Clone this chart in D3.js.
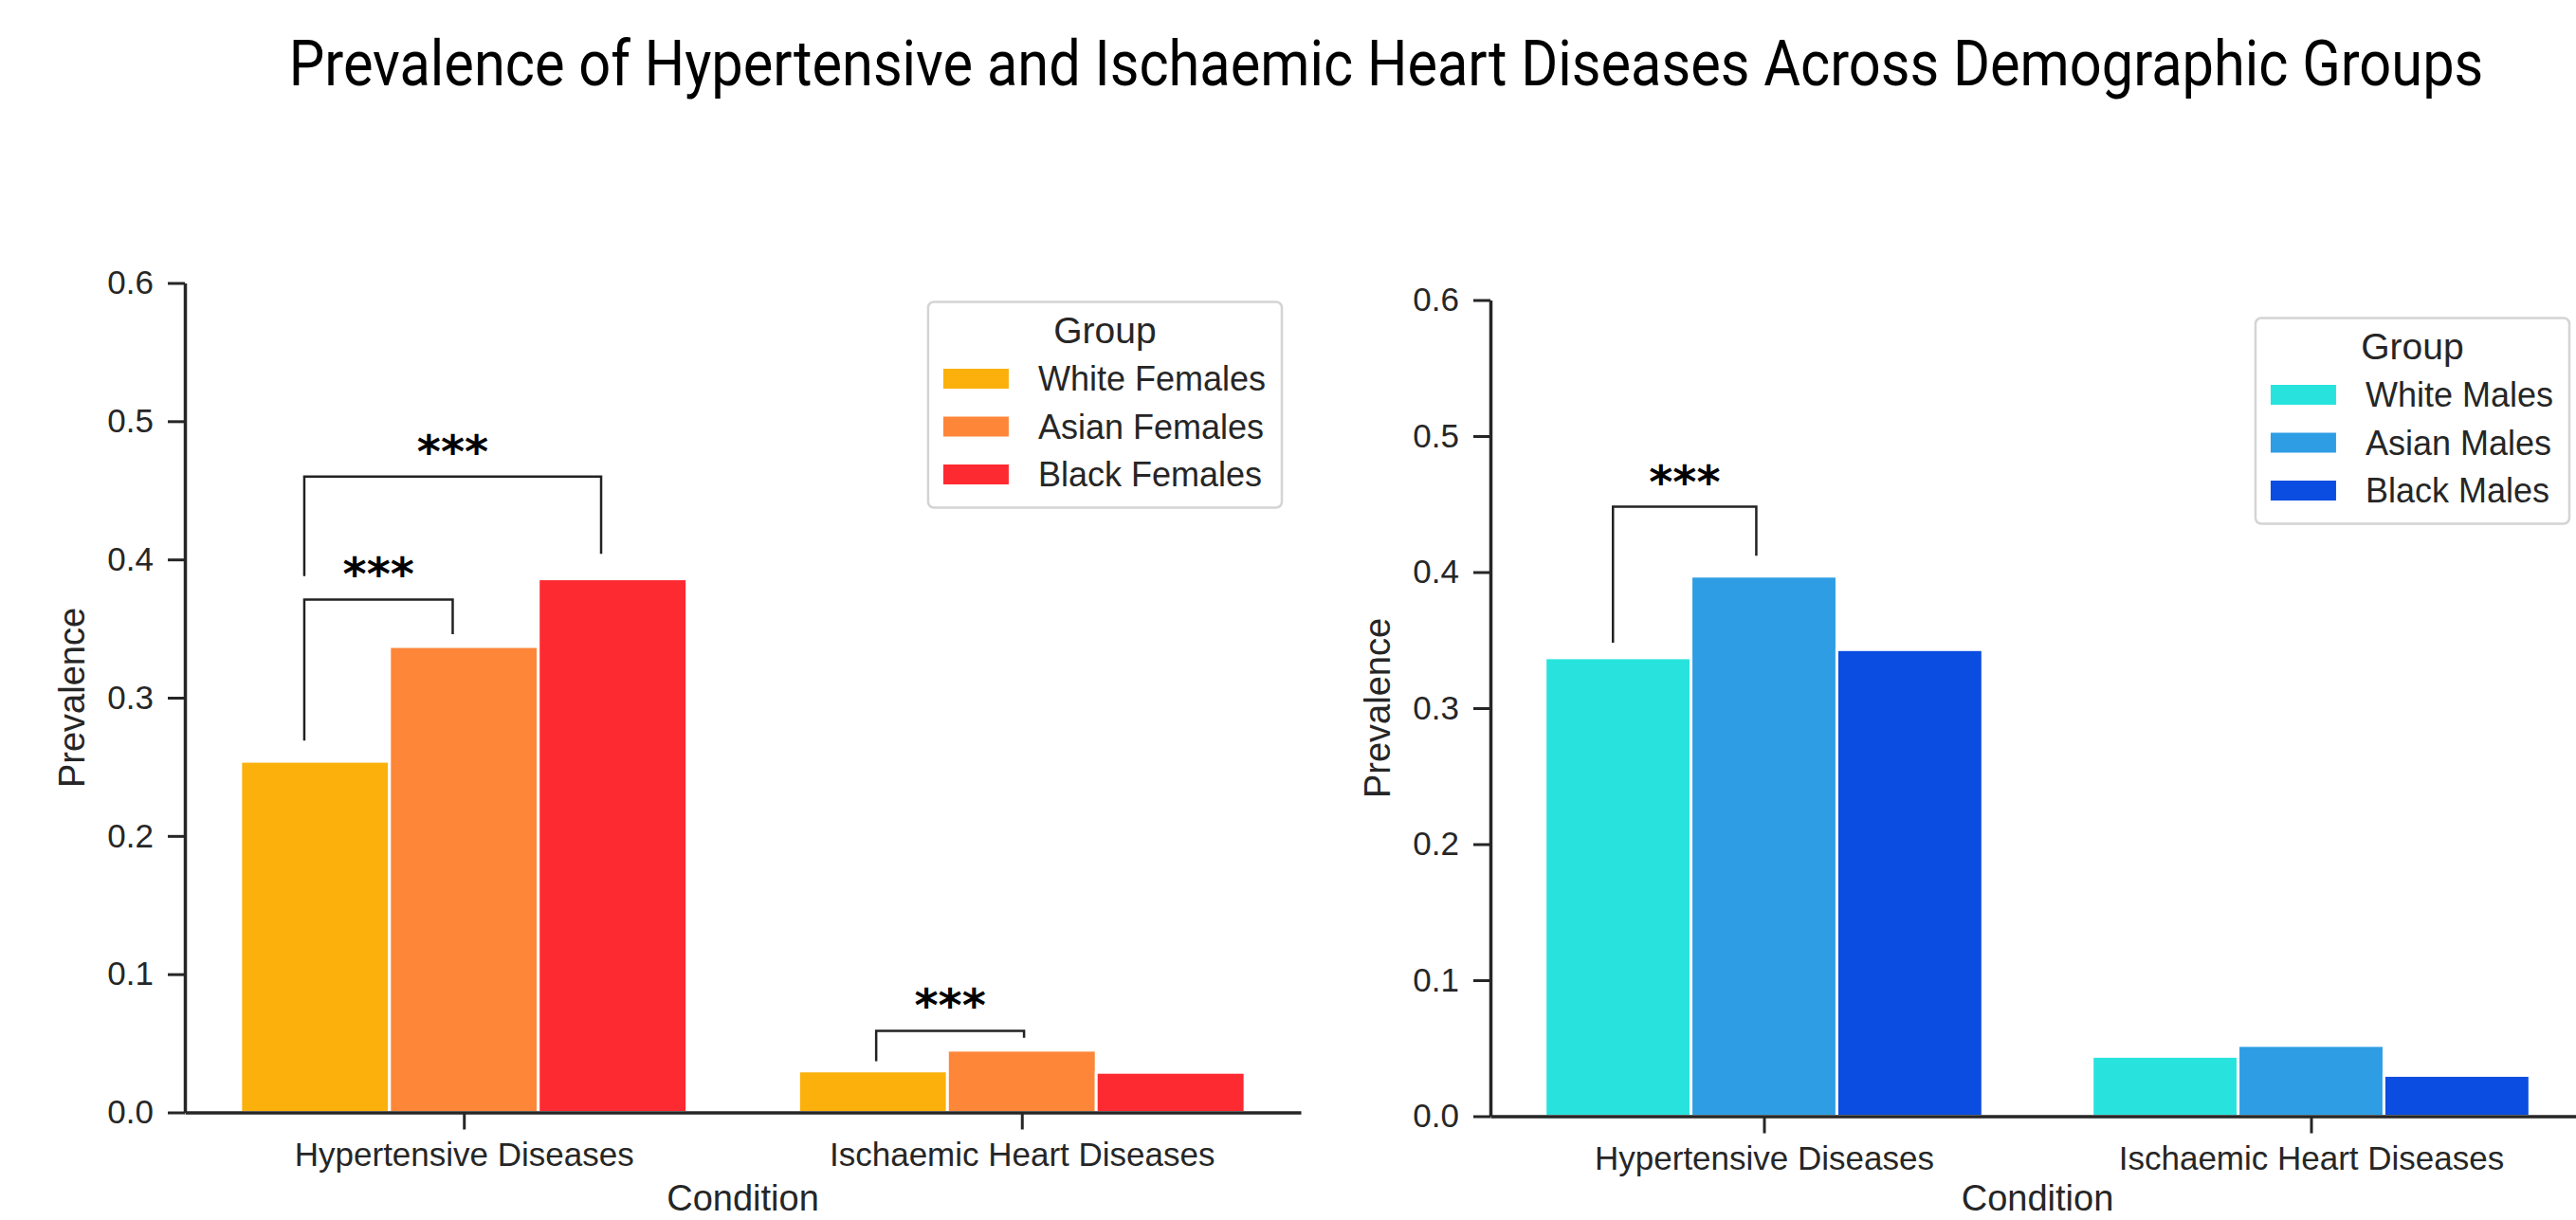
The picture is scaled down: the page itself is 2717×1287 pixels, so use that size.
<!DOCTYPE html>
<html>
<head>
<meta charset="utf-8">
<script src="https://cdn.jsdelivr.net/npm/d3@7"></script>
<style>
  html, body { margin: 0; padding: 0; background: #ffffff; }
  svg { display: block; }
</style>
</head>
<body>
<svg id="chart" width="2717" height="1287"></svg>
<script>
// ---- data -------------------------------------------------------------
const conditions = ["Hypertensive Diseases", "Ischaemic Heart Diseases"];
const yTicks = [0, 0.1, 0.2, 0.3, 0.4, 0.5, 0.6];

const femaleGroups = ["White Females", "Asian Females", "Black Females"];
const whiteFemales = [0.254, 0.030];
const asianFemales = [0.337, 0.045];
const blackFemales = [0.386, 0.029];
const femaleColors = ["#FCB00B", "#FE8638", "#FE2A31"];

const maleGroups = ["White Males", "Asian Males", "Black Males"];
const whiteMales = [0.337, 0.044];
const asianMales = [0.397, 0.052];
const blackMales = [0.343, 0.030];
const maleColors = ["#28E3DD", "#2E9DE4", "#0B4DE0"];

// significance brackets: condition index, leg positions (category units,
// relative to the condition centre), bracket height and leg ends (prevalence)
const femaleBrackets = [
  { condition: 0, x1: -0.286, x2: 0.246, top: 0.460, end1: 0.388, end2: 0.404, label: "***" },
  { condition: 0, x1: -0.286, x2: -0.020, top: 0.371, end1: 0.269, end2: 0.346, label: "***" },
  { condition: 1, x1: -0.261, x2: 0.004, top: 0.059, end1: 0.037, end2: 0.054, label: "***" }
];
const maleBrackets = [
  { condition: 0, x1: -0.276, x2: -0.014, top: 0.448, end1: 0.348, end2: 0.412, label: "***" }
];

// ---- drawing ----------------------------------------------------------
const svg = d3.select("#chart");
const FONT = "'Liberation Sans', Arial, Helvetica, sans-serif";
const INK = "#262626";
const PAGE_W = 2717, PAGE_H = 1287;

svg.append("rect").attr("width", PAGE_W).attr("height", PAGE_H).attr("fill", "#ffffff");

// figure title, horizontally condensed to span 2315 px
const title = svg.append("text")
  .attr("text-anchor", "middle")
  .attr("font-family", "Roboto, 'Noto Sans', sans-serif")
  .attr("font-size", 66)
  .attr("fill", "#000")
  .text("Prevalence of Hypertensive and Ischaemic Heart Diseases Across Demographic Groups");
const titleScale = 2315 / title.node().getComputedTextLength();
title.attr("transform", `translate(1462,90) scale(${titleScale},1)`);

const panels = [
  {
    groups: femaleGroups,
    series: [whiteFemales, asianFemales, blackFemales],
    colors: femaleColors,
    brackets: femaleBrackets,
    frame: { left: 195, right: 1372, top: 298.5, bottom: 1173.5 },
    legend: { right: 1352, top: 318.5 }
  },
  {
    groups: maleGroups,
    series: [whiteMales, asianMales, blackMales],
    colors: maleColors,
    brackets: maleBrackets,
    frame: { left: 1572, right: 2726, top: 316.5, bottom: 1177.5 },
    legend: { right: 2710, top: 335.5 }
  }
];

panels.forEach(p => {
  const f = p.frame;
  const g = svg.append("g");

  // condition positions: xlim of [-0.5, n - 0.5]
  const x = d3.scalePoint().domain(conditions).range([f.left, f.right]).padding(0.5);
  const step = x.step();
  const y = d3.scaleLinear().domain([0, 0.6]).range([f.bottom, f.top]);

  // hue offsets inside each condition (total width 0.8 of a step)
  const xg = d3.scaleBand().domain(p.groups).range([-0.4 * step, 0.4 * step]).padding(0);
  const color = d3.scaleOrdinal().domain(p.groups).range(p.colors);

  const barData = [];
  p.groups.forEach((grp, gi) => {
    conditions.forEach((c, ci) => barData.push({ group: grp, condition: c, value: p.series[gi][ci] }));
  });

  g.append("g").selectAll("rect").data(barData).join("rect")
    .attr("x", d => x(d.condition) + xg(d.group))
    .attr("width", xg.bandwidth())
    .attr("y", d => y(d.value))
    .attr("height", d => y(0) - y(d.value))
    .attr("fill", d => color(d.group))
    .attr("stroke", "#ffffff")
    .attr("stroke-width", 3);

  // y axis
  const yAxis = g.append("g")
    .attr("transform", `translate(${f.left},0)`)
    .call(d3.axisLeft(y).tickValues(yTicks).tickFormat(d3.format(".1f"))
      .tickSize(18).tickSizeOuter(0).tickPadding(15));
  yAxis.select(".domain").attr("stroke", INK).attr("stroke-width", 3.5);
  yAxis.selectAll(".tick line").attr("stroke", INK).attr("stroke-width", 3);
  yAxis.selectAll(".tick text")
    .attr("font-family", FONT).attr("font-size", 35).attr("fill", INK);

  // x axis
  const xAxis = g.append("g")
    .attr("transform", `translate(0,${f.bottom})`)
    .call(d3.axisBottom(x).tickSize(18).tickSizeOuter(0));
  xAxis.select(".domain").attr("stroke", INK).attr("stroke-width", 3.5);
  xAxis.selectAll(".tick line").attr("stroke", INK).attr("stroke-width", 3);
  xAxis.selectAll(".tick text")
    .attr("font-family", FONT).attr("font-size", 35).attr("fill", INK)
    .attr("y", 56).attr("dy", 0);

  // axis titles
  g.append("text")
    .attr("x", (f.left + f.right) / 2)
    .attr("y", Math.min(f.bottom + 106, PAGE_H - 10))
    .attr("text-anchor", "middle")
    .attr("font-family", FONT).attr("font-size", 38).attr("fill", INK)
    .text("Condition");

  g.append("text")
    .attr("transform", `translate(${f.left - 106},${(f.top + f.bottom) / 2}) rotate(-90)`)
    .attr("text-anchor", "middle")
    .attr("font-family", FONT).attr("font-size", 38).attr("fill", INK)
    .text("Prevalence");

  // significance brackets
  const br = g.append("g");
  p.brackets.forEach(b => {
    const cx = x(conditions[b.condition]);
    const xa = cx + b.x1 * step, xb = cx + b.x2 * step;
    const pts = [[xa, y(b.end1)], [xa, y(b.top)], [xb, y(b.top)], [xb, y(b.end2)]];
    br.append("path")
      .attr("d", d3.line()(pts))
      .attr("fill", "none").attr("stroke", "#222").attr("stroke-width", 2.5);
    br.append("text")
      .attr("x", (xa + xb) / 2).attr("y", y(b.top) - 10)
      .attr("text-anchor", "middle")
      .attr("font-family", "'DejaVu Sans', sans-serif").attr("font-size", 48)
      .attr("font-weight", "bold")
      .attr("fill", "#000")
      .text(b.label);
  });

  // legend
  const lg = g.append("g");
  const labelOffset = 116, swatchOffset = 16, rowGap = 50.5;
  const tmp = lg.append("g").attr("font-family", FONT).attr("font-size", 36);
  const maxW = d3.max(p.groups, t => tmp.append("text").text(t).node().getComputedTextLength());
  tmp.remove();
  const boxW = labelOffset + maxW + 17;
  const boxH = 217;
  const bx = p.legend.right - boxW, by = p.legend.top;
  lg.append("rect")
    .attr("x", bx).attr("y", by).attr("width", boxW).attr("height", boxH)
    .attr("rx", 6).attr("ry", 6)
    .attr("fill", "#ffffff").attr("fill-opacity", 0.8)
    .attr("stroke", "#d4d4d4").attr("stroke-width", 2.5);
  lg.append("text")
    .attr("x", bx + boxW / 2).attr("y", by + 43.5)
    .attr("text-anchor", "middle")
    .attr("font-family", FONT).attr("font-size", 39).attr("fill", INK)
    .text("Group");
  const rows = lg.selectAll("g.row").data(p.groups).join("g")
    .attr("class", "row")
    .attr("transform", (d, i) => `translate(${bx},${by + 81 + i * rowGap})`);
  rows.append("rect")
    .attr("x", swatchOffset).attr("y", -10.5).attr("width", 69).attr("height", 21)
    .attr("fill", d => color(d));
  rows.append("text")
    .attr("x", labelOffset).attr("y", 12.5)
    .attr("font-family", FONT).attr("font-size", 36).attr("fill", INK)
    .text(d => d);
});
</script>
</body>
</html>
